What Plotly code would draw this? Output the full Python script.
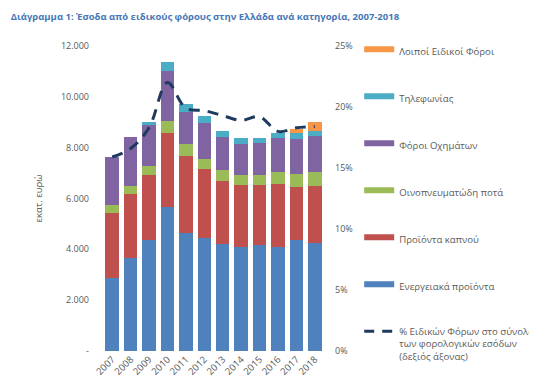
import plotly.graph_objects as go

years = ["2007", "2008", "2009", "2010", "2011", "2012", "2013", "2014", "2015", "2016", "2017", "2018"]

energy = [2860, 3670, 4370, 5670, 4660, 4460, 4220, 4100, 4160, 4090, 4370, 4250]
tobacco = [2560, 2490, 2540, 2920, 3010, 2700, 2480, 2420, 2360, 2490, 2070, 2230]
alcohol = [340, 340, 380, 470, 490, 390, 430, 390, 390, 480, 510, 550]
vehicles = [1870, 1930, 1600, 1940, 1230, 1410, 1280, 1230, 1260, 1320, 1400, 1410]
telephony = [0, 0, 130, 380, 340, 290, 250, 230, 220, 180, 220, 220]
other = [0, 0, 0, 0, 0, 0, 0, 0, 0, 0, 170, 360]
share_pct = [15.9, 16.6, 18.3, 22.0, 19.9, 19.7, 19.3, 18.9, 19.2, 18.0, 18.3, 18.4]

left_tickvals = [0, 2000, 4000, 6000, 8000, 10000, 12000]
left_ticktext = ["-", "2.000", "4.000", "6.000", "8.000", "10.000", "12.000"]
right_tickvals = [0, 5, 10, 15, 20, 25]
right_ticktext = ["0%", "5%", "10%", "15%", "20%", "25%"]

series = [
    ("Ενεργειακά προϊόντα", energy, "#4f81bd"),
    ("Προϊόντα καπνού", tobacco, "#c0504d"),
    ("Οινοπνευματώδη ποτά", alcohol, "#9bbb59"),
    ("Φόροι Οχημάτων", vehicles, "#8064a2"),
    ("Τηλεφωνίας", telephony, "#4bacc6"),
    ("Λοιποί Ειδικοί Φόροι", other, "#f79646"),
]

line_color = "#1f3a5f"
grey = "#595959"
font_family = "Open Sans, sans-serif"

fig = go.Figure()

for name, vals, col in series:
    fig.add_trace(go.Bar(
        x=years, y=vals, name=name, marker=dict(color=col, line=dict(width=0)),
        showlegend=False, hoverinfo="skip",
    ))

fig.add_trace(go.Scatter(
    x=years, y=share_pct, yaxis="y2", mode="lines", showlegend=False,
    line=dict(color=line_color, width=3, dash="11px,8px", shape="spline", smoothing=1),
))

# legend entries (top to bottom)
legend_order = list(reversed(series))
for i, (name, vals, col) in enumerate(legend_order):
    fig.add_trace(go.Scatter(
        x=[None], y=[None], mode="lines", name=name,
        line=dict(color=col, width=6), legendgroup=f"g{i}", legendrank=i + 1,
    ))
fig.add_trace(go.Scatter(
    x=[None], y=[None], mode="lines", yaxis="y2",
    name="% Ειδικών Φόρων στο σύνολο<br>των φορολογικών εσόδων<br>(δεξιός άξονας)",
    line=dict(color=line_color, width=3, dash="10px,8px"), legendgroup="g9", legendrank=10,
))

fig.update_layout(
    width=537, height=380,
    margin=dict(l=95, r=221, t=38, b=37, autoexpand=False),
    paper_bgcolor="white", plot_bgcolor="white",
    barmode="stack", bargap=0.27,
    separators=",.",
    font=dict(family=font_family, size=10, color=grey),
    title=dict(
        text="<b>Διάγραμμα 1: Έσοδα από ειδικούς φόρους στην Ελλάδα ανά κατηγορία, 2007-2018</b>",
        x=0.005, xanchor="left", y=0.978, yanchor="middle",
        font=dict(family=font_family, size=9.5, color="#4677b8"),
    ),
    xaxis=dict(
        type="category", tickangle=-45, showgrid=False, showline=False, zeroline=False,
        ticks="", tickfont=dict(size=9.5, color=grey), automargin=False,
    ),
    yaxis=dict(
        range=[0, 12000], tickvals=left_tickvals, ticktext=left_ticktext,
        showgrid=False, showline=False, zeroline=False, ticks="", ticklabelstandoff=13,
        title=dict(text="εκατ. ευρώ", font=dict(size=9.5, color=grey), standoff=16),
        tickfont=dict(size=9, color=grey), automargin=False,
    ),
    yaxis2=dict(
        range=[0, 25], tickvals=right_tickvals, ticktext=right_ticktext, overlaying="y",
        side="right", showgrid=False, showline=False, zeroline=False, ticks="",
        ticklabelstandoff=10, tickfont=dict(size=9, color=grey), automargin=False,
    ),
    legend=dict(
        xref="container", yref="container", x=0.654, y=0.925,
        xanchor="left", yanchor="top", tracegroupgap=28, itemwidth=30,
        valign="top", font=dict(size=9.6, color=grey), bgcolor="rgba(0,0,0,0)",
        maxheight=1,
    ),
)

fig.write_html("out.html")
